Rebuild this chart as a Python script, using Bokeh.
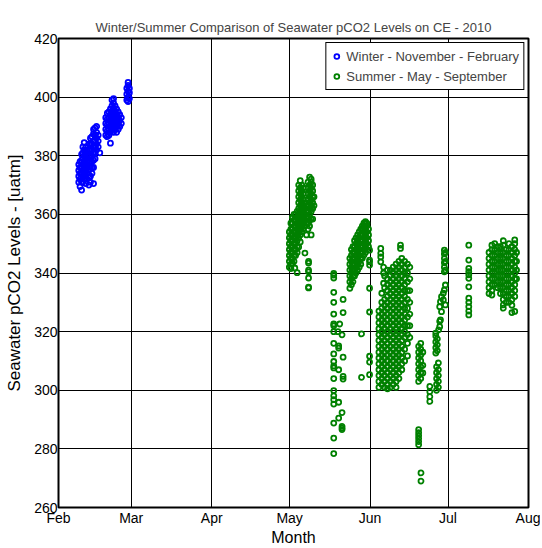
from bokeh.plotting import figure
from bokeh.models import FixedTicker, Range1d
from bokeh.embed import file_html
from bokeh.resources import INLINE

FONT = "Liberation Sans"

TITLE = "Winter/Summer Comparison of Seawater pCO2 Levels on CE - 2010"
month_ticks = [32, 60, 91, 121, 152, 182, 213]          # day of year 2010 (month starts)
month_labels = ["Feb", "Mar", "Apr", "May", "Jun", "Jul", "Aug"]
y_ticks = [260, 280, 300, 320, 340, 360, 380, 400, 420]

# ---- Winter (day of year, [pCO2 values]) ----
winter_a = [
    (39.8, [371, 373, 375, 377]),
    (40.3, [369.5, 372, 374, 376, 378]),
    (40.9, [368.3, 371, 373.5, 376, 378.5, 380.5]),
    (41.4, [371, 373, 375, 377, 379, 381, 383]),
    (41.9, [372, 374, 376, 378, 380, 382, 384.5]),
    (42.5, [370.5, 373, 375, 377, 379, 381, 383]),
    (43.1, [372, 374, 376, 378, 380, 382]),
    (43.7, [370, 372.5, 375, 377.5, 380, 382, 384]),
    (44.3, [371, 373, 376, 378, 380, 382, 384, 386]),
    (44.9, [374, 376, 378, 380, 382, 384, 386.5]),
    (45.5, [370.5, 376, 378.5, 381, 383, 385, 387.5, 389]),
    (46.1, [379, 381, 383, 385, 387, 389.5]),
    (46.7, [382, 384, 386, 388, 390]),
    (47.3, [383, 385, 387]),
    (47.9, [381]),
]
winter_b = [
    (50.2, [387, 389, 391, 393]),
    (50.8, [386.5, 388.5, 390.5, 392.5, 394.5]),
    (51.4, [387, 389, 391, 393, 395]),
    (52.0, [384.3, 388, 390, 392, 394, 396]),
    (52.6, [389, 391, 393, 395, 397, 399]),
    (53.2, [388, 390, 392, 394, 396, 398, 399.5]),
    (53.8, [389, 391, 393, 395, 397]),
    (54.4, [388, 390, 392, 394, 396]),
    (55.0, [389, 391, 393, 395]),
    (55.6, [390, 392, 394]),
    (56.2, [391, 393]),
]
winter_c = [
    (58.3, [399, 401, 403]),
    (58.8, [398.5, 400, 402, 404, 405]),
    (59.3, [399.5, 401.5, 403]),
]

# ---- Summer ----
may_early = [
    (120.9, [342, 344, 346, 348, 350, 352, 354]),
    (121.5, [341.5, 343, 345, 347, 349, 351, 353, 355, 357]),
    (122.1, [343.2, 345, 347, 349, 351, 353, 355, 357, 359]),
    (122.7, [344, 346, 348, 350, 352, 354, 356, 358, 360]),
    (123.0, [341.7]),
    (123.3, [346, 348, 350, 352, 354, 356, 358, 360]),
    (123.9, [340.1, 347, 349, 351, 353, 355, 357, 359, 361]),
    (124.5, [348.9, 352, 354, 356, 358, 360, 362, 364, 366, 368, 370]),
    (125.1, [350.6, 353, 355, 357, 359, 361, 363, 365, 367, 369, 371.5]),
    (125.7, [354, 356, 358, 360, 362, 364, 366, 368, 370]),
    (126.3, [355, 357, 359, 361, 363, 365, 367, 369]),
    (126.9, [346.8, 356, 358, 360, 362, 364]),
    (127.5, [353, 357, 359, 361, 363]),
    (128.1, [355, 357, 359, 361, 363, 365, 367, 369, 371]),
    (128.3, [344, 343.4, 341, 340.4, 338.3, 335.2, 334.9]),
    (128.7, [356, 358, 360, 362, 364, 366, 368, 370, 372.7]),
    (129.3, [353, 358.4, 361, 363, 365, 367, 369, 371, 372]),
    (129.9, [358.4, 362, 364, 366, 368, 370]),
    (130.4, [363, 366]),
]
may_mid = [
    (138.0, [339.9, 339.3, 338.3, 333.4, 330, 326, 322.6, 322, 320, 316, 312.4, 309.8,
             308.3, 307.6, 304, 299.9, 298.1, 296.8, 295.3, 288.8, 283.7, 278.4]),
    (139.6, [320.0]),
    (139.9, [315.1, 314.4, 307, 295.9, 290.5]),
    (140.3, [322.6]),
    (141.2, [318.9, 292.4, 287.7, 287.1, 286.6]),
    (141.6, [331, 326.5, 311.3, 304.7, 303.8]),
    (148.7, [319.2, 304.4]),
    (151.8, [347.8, 344.4, 343.8, 342.7, 334.8, 326.7, 311.6, 309.6, 305.3]),
]
may_late = [
    (144.2, [334.8, 337, 339, 341, 343, 345]),
    (144.8, [336, 338, 340, 342, 344, 346, 348]),
    (145.4, [337, 339, 341, 343, 345, 347, 349]),
    (146.0, [339, 341, 343, 345, 347, 349, 351]),
    (146.6, [340, 342, 344, 346, 348, 350, 352]),
    (147.2, [341, 343, 345, 347, 349, 351, 353]),
    (147.8, [342, 344, 346, 348, 350, 352, 354]),
    (148.4, [343, 345, 347, 349, 351, 353, 355]),
    (149.0, [345, 347, 349, 351, 353, 355, 356]),
    (149.6, [346, 348, 350, 352, 354, 356, 357]),
    (150.2, [347, 349, 351, 353, 355, 357, 357.5]),
    (150.8, [348, 350, 352, 354, 356, 357]),
    (151.4, [349, 351, 353, 355]),
]
june_main = [
    (155.4, [301, 303, 305, 307, 309, 311, 313, 315, 317, 319, 321, 323, 325, 327]),
    (156.1, [343.8, 345.5, 346.7, 348.4]),
    (156.5, [302, 304, 306, 308, 310, 312, 314, 316, 318, 320, 322, 324, 326, 328, 330, 333.1]),
    (157.2, [342, 340, 336.5]),
    (157.6, [301, 303, 305, 307, 309, 311, 313, 315, 317, 319, 321, 323, 325, 327, 329, 331, 335, 339]),
    (158.7, [300.5, 302, 304, 306, 308, 310, 312, 314, 316, 318, 320, 322, 324, 326, 328, 330,
             332, 334, 336, 338, 341]),
    (159.8, [301, 303, 305, 307, 309, 311, 313, 315, 317, 319, 321, 323, 325, 327, 329, 331,
             333, 335, 337, 339, 341]),
    (160.9, [302, 304, 306, 308, 310, 312, 314, 316, 318, 320, 322, 324, 326, 328, 330, 332,
             334, 336, 338, 340, 342]),
    (162.0, [301, 303, 305, 307, 309, 311, 313, 315, 317, 319, 321, 323, 325, 327, 329, 331,
             333, 335, 337, 339, 341, 343]),
    (163.1, [304, 306, 308, 310, 312, 314, 316, 318, 320, 322, 324, 326, 328, 330, 332, 334,
             336, 338, 340, 342, 344]),
    (163.7, [348.4, 349.5]),
    (164.2, [307, 309, 311, 313, 315, 317, 319, 321, 323, 325, 327, 329, 331, 333, 335, 337,
             339, 341, 343, 345]),
    (165.3, [310, 314, 318, 320, 322, 324, 326, 328, 330, 332, 334, 336, 338, 340, 342, 344]),
    (166.4, [311.7, 316, 319, 322, 325, 328, 331, 334, 337, 340, 343]),
    (167.3, [318, 322, 326, 330, 334, 338, 342]),
]
june_late = [
    (170.7, [303, 305, 307, 309, 311, 313, 315, 286.6, 285.5, 284.5, 283.5, 282.5, 281.4]),
    (171.5, [304, 306, 308, 310, 312, 314, 316]),
    (171.6, [271.8, 269]),
    (172.3, [305.9, 308.5, 313]),
    (175.0, [301.3, 299.5, 297.8, 296.2]),
    (177.3, [312.7, 314.5, 316.5, 318.5, 319.5]),
    (177.6, [300, 302, 304, 306, 308]),
    (177.9, [313.5, 315.5, 317.5]),
    (178.3, [301, 303, 305, 307, 309.3]),
    (178.4, [320.6]),
    (178.8, [321.7, 323.5, 328.5]),
    (179.1, [324, 330.2]),
    (179.5, [326.8, 331.9]),
    (180.2, [330.8, 333.1]),
    (180.6, [334.2, 340.4, 342, 343.5, 345, 346.5, 347.8]),
    (181.0, [335.9, 329.1, 341, 344, 347]),
]
july = [
    (190.0, [349.5, 344.4, 341.6, 340.5, 339.4, 338.2, 335.3, 331.4, 330, 328.5, 327, 325.7]),
    (197.8, [333, 335, 337, 339, 341, 343, 345, 347]),
    (198.9, [332.5, 334, 336, 338, 340, 342, 344, 346, 348, 349.5]),
    (200.0, [336, 338, 340, 342, 344, 346, 348, 350]),
    (201.1, [335, 337, 339, 341, 343, 345, 347, 349]),
    (202.2, [333, 335, 337, 339, 341, 343, 345, 347, 349]),
    (203.3, [328, 329.1, 331, 333, 335, 337, 339, 341, 343, 345, 347, 349.5, 351]),
    (204.4, [330, 332, 334, 336, 338, 340, 342, 344, 346, 348]),
    (205.5, [330, 332, 334, 336, 338, 340, 342, 344, 346, 348, 350]),
    (206.6, [326.5, 329, 331, 333, 335, 337, 339, 341, 343, 345, 347, 349]),
    (207.7, [326.9, 332, 334, 336, 338, 340, 342, 344, 346, 348, 350, 351.3]),
    (208.4, [338, 341, 344, 347]),
]


def flatten(*groups):
    xs, ys = [], []
    for g in groups:
        for d, vals in g:
            for v in vals:
                xs.append(d)
                ys.append(v)
    return xs, ys


wx, wy = flatten(winter_a, winter_b, winter_c)
sx, sy = flatten(may_early, may_mid, may_late, june_main, june_late, july)

p = figure(width=540, height=548, x_range=Range1d(32, 213), y_range=Range1d(260, 420),
           output_backend="svg", toolbar_location=None, title=TITLE,
           min_border_left=58, min_border_right=12, min_border_top=38, min_border_bottom=40)
p.background_fill_color = "white"
p.border_fill_color = "white"
p.outline_line_color = "black"
p.outline_line_width = 2
p.outline_line_alpha = 1

p.title.text_font = FONT
p.title.text_font_size = "13px"
p.title.text_font_style = "normal"
p.title.align = "center"
p.title.standoff = 8

p.grid.grid_line_color = "black"
p.grid.grid_line_alpha = 1
p.grid.grid_line_width = 1

p.xaxis.ticker = FixedTicker(ticks=month_ticks)
p.xaxis.major_label_overrides = {t: l for t, l in zip(month_ticks, month_labels)}
p.yaxis.ticker = FixedTicker(ticks=y_ticks)
for ax in (p.xaxis, p.yaxis):
    ax.major_label_text_font = FONT
    ax.major_label_text_font_size = "14px"
    ax.major_label_text_color = "black"
    ax.major_tick_in = 4
    ax.major_tick_out = 0
    ax.minor_tick_line_color = None
    ax.axis_line_color = "black"
    ax.major_label_standoff = 2
    ax.axis_label_text_font = FONT
    ax.axis_label_text_font_style = "normal"
    ax.axis_label_text_color = "black"
    ax.axis_label_standoff = 7
p.yaxis.major_label_standoff = 1
p.xaxis.axis_label = "Month"
p.xaxis.axis_label_text_font_size = "16px"
p.xaxis.axis_label_standoff = 0
p.yaxis.axis_label = "Seawater pCO2 Levels - [uatm]"
p.yaxis.axis_label_text_font_size = "17px"

p.scatter(wx, wy, marker="circle", size=5, fill_color=None, line_color="#0000ff",
          line_width=1.8, legend_label="Winter - November - February")
p.scatter(sx, sy, marker="circle", size=5, fill_color=None, line_color="#008000",
          line_width=1.8, legend_label="Summer - May - September")

lg = p.legend[0]
lg.location = "top_right"
lg.border_line_color = "black"
lg.border_line_width = 1
lg.border_line_alpha = 1
lg.background_fill_alpha = 1
lg.label_text_font = FONT
lg.label_text_font_size = "13px"
lg.glyph_width = 12
lg.glyph_height = 12
lg.label_standoff = 4
lg.label_height = 18
lg.padding = 4
lg.spacing = 2
lg.margin = 4

open("out.html", "w").write(file_html(p, INLINE))
